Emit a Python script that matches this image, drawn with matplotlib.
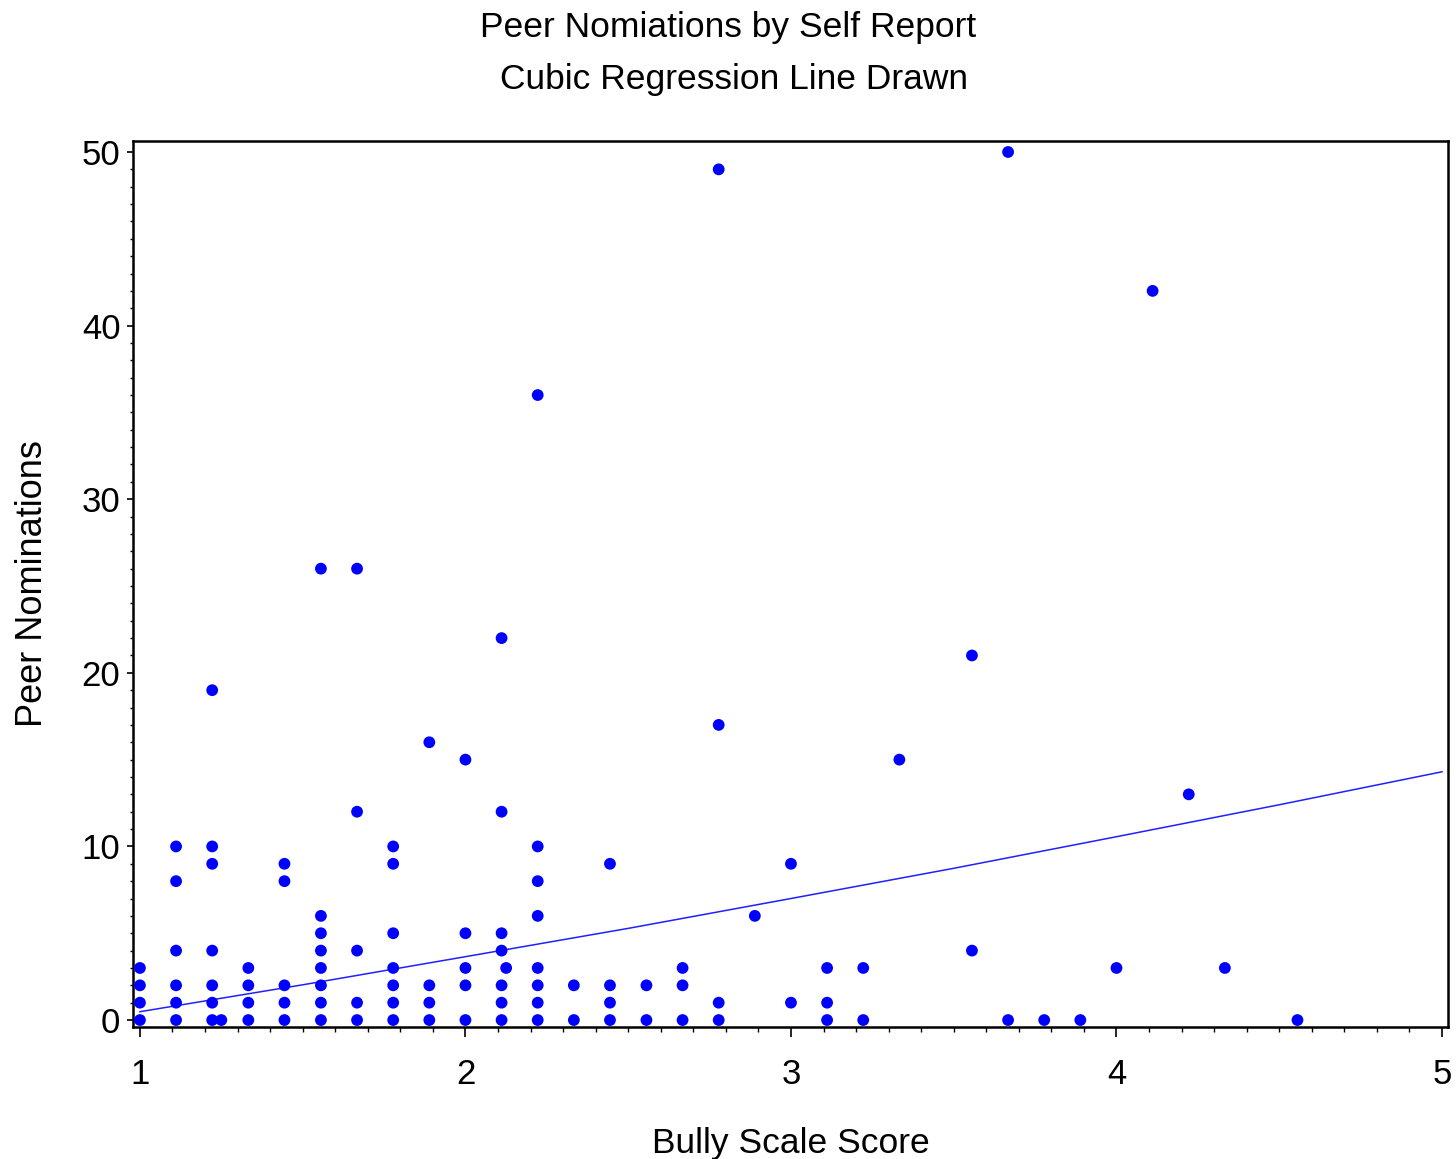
import numpy as np
import matplotlib
matplotlib.use('Agg')
import matplotlib.pyplot as plt
from matplotlib.ticker import MultipleLocator

plt.rcParams['font.family'] = ['Liberation Sans', 'DejaVu Sans']

# bully scale score / peer nominations, one entry per dot
bully = [1.0, 1.0, 1.0, 1.0,
         1.111, 1.111, 1.111, 1.111, 1.111, 1.111,
         1.222, 1.222, 1.222, 1.222, 1.222, 1.222, 1.222,
         1.25,
         1.333, 1.333, 1.333, 1.333,
         1.444, 1.444, 1.444, 1.444, 1.444,
         1.556, 1.556, 1.556, 1.556, 1.556, 1.556, 1.556, 1.556,
         1.667, 1.667, 1.667, 1.667, 1.667,
         1.778, 1.778, 1.778, 1.778, 1.778, 1.778, 1.778,
         1.889, 1.889, 1.889, 1.889,
         2.0, 2.0, 2.0, 2.0, 2.0,
         2.111, 2.111, 2.111, 2.111, 2.111, 2.111, 2.111,
         2.125,
         2.222, 2.222, 2.222, 2.222, 2.222, 2.222, 2.222, 2.222,
         2.333, 2.333,
         2.444, 2.444, 2.444, 2.444,
         2.556, 2.556,
         2.667, 2.667, 2.667,
         2.778, 2.778, 2.778, 2.778,
         2.889,
         3.0, 3.0,
         3.111, 3.111, 3.111,
         3.222, 3.222,
         3.333,
         3.556, 3.556,
         3.667, 3.667,
         3.778, 3.889, 4.0, 4.111, 4.222, 4.333, 4.556]
peers = [0, 1, 2, 3,
         0, 1, 2, 4, 8, 10,
         0, 1, 2, 4, 9, 10, 19,
         0,
         0, 1, 2, 3,
         0, 1, 2, 8, 9,
         0, 1, 2, 3, 4, 5, 6, 26,
         0, 1, 4, 12, 26,
         0, 1, 2, 3, 5, 9, 10,
         0, 1, 2, 16,
         0, 2, 3, 5, 15,
         0, 1, 2, 4, 5, 12, 22,
         3,
         0, 1, 2, 3, 6, 8, 10, 36,
         0, 2,
         0, 1, 2, 9,
         0, 2,
         0, 2, 3,
         0, 1, 17, 49,
         6,
         1, 9,
         0, 1, 3,
         0, 3,
         15,
         4, 21,
         0, 50,
         0, 0, 3, 42, 13, 3, 0]

# cubic regression line
line_x = [1.0, 1.5, 2.0, 2.5, 3.0, 3.5, 4.0, 4.5, 5.0]
line_y = [0.48, 2.03, 3.65, 5.28, 7.0, 8.74, 10.56, 12.4, 14.3]

fig = plt.figure(figsize=(14.56, 11.59), dpi=100)
ax = fig.add_axes([0.0913, 0.1139, 0.9032, 0.7644])

ax.plot(line_x, line_y, color='#2020ff', lw=1.1, zorder=2)
ax.scatter(bully, peers, s=72, color='#0000ff', edgecolors='none', zorder=3)

ax.set_xlim(0.9785, 5.0184)
ax.set_ylim(-0.4, 50.63)
ax.set_xticks([1, 2, 3, 4, 5])
ax.set_yticks([0, 10, 20, 30, 40, 50])
ax.xaxis.set_minor_locator(MultipleLocator(0.1))
ax.yaxis.set_minor_locator(MultipleLocator(1))

for s in ax.spines.values():
    s.set_linewidth(1.8)
ax.tick_params(axis='x', which='major', length=7, width=1.2, pad=15, labelsize=25, direction='out')
ax.tick_params(axis='x', which='minor', length=3.6, width=1.0, direction='out')
ax.tick_params(axis='y', which='major', length=4, width=1.2, pad=5, labelsize=25, direction='out')
ax.tick_params(axis='y', which='minor', length=2.2, width=1.0, direction='out')

ax.set_xlabel('Bully Scale Score', fontsize=25.5, labelpad=26)
ax.set_ylabel('Peer Nominations', fontsize=26, labelpad=23)

fig.text(0.5, 0.976, 'Peer Nomiations by Self Report', ha='center', va='center', fontsize=25.5)
fig.text(0.504, 0.931, 'Cubic Regression Line Drawn', ha='center', va='center', fontsize=25.5)

fig.savefig('out.png', dpi=100)
